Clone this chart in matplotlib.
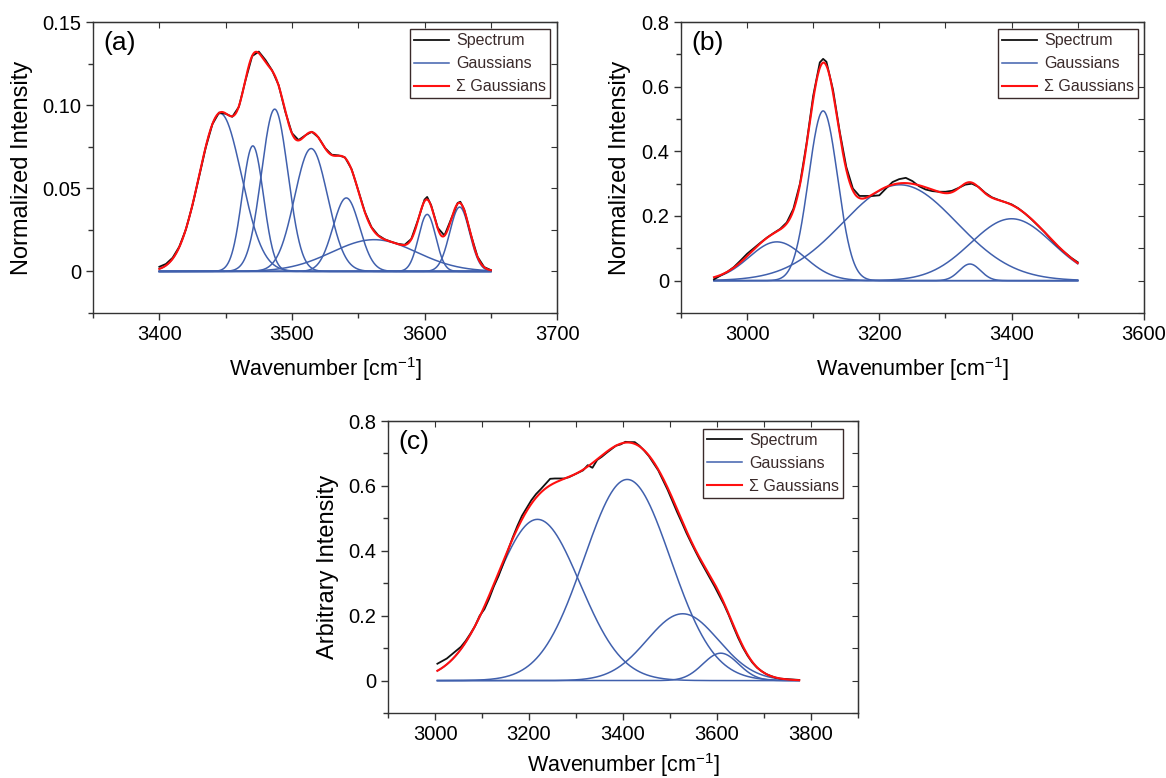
import numpy as np
import matplotlib
matplotlib.use("Agg")
import matplotlib.pyplot as plt
from matplotlib.ticker import MultipleLocator, FuncFormatter

plt.rcParams['font.family'] = ['Liberation Sans', 'DejaVu Sans']
plt.rcParams['mathtext.default'] = 'regular'

# ---- panel (a): Gaussian components (center, height, width) ----
a_cen = [3446, 3470.5, 3487, 3514.5, 3541, 3562, 3602, 3626.5]
a_amp = [0.095, 0.0755, 0.0976, 0.0739, 0.0442, 0.0191, 0.0343, 0.0387]
a_sig = [16, 8, 10, 12.5, 10, 32, 6.5, 7.5]
# measured spectrum (a)
a_wn = [3400, 3405, 3410, 3415, 3420, 3425, 3430, 3435, 3440, 3445, 3450, 3455,
        3460, 3465, 3470, 3475, 3480, 3485, 3490, 3495, 3500, 3505, 3510, 3515,
        3520, 3525, 3530, 3535, 3540, 3545, 3550, 3555, 3560, 3565, 3570, 3575,
        3580, 3585, 3590, 3595, 3600, 3602, 3605, 3610, 3615, 3620, 3625, 3627,
        3630, 3635, 3640, 3645, 3650]
a_int = [0.0028, 0.0045, 0.0082, 0.0148, 0.0252, 0.0398, 0.0570, 0.0745, 0.0885,
         0.0955, 0.0948, 0.0930, 0.0990, 0.1150, 0.1295, 0.1322, 0.1272, 0.1210,
         0.1120, 0.0960, 0.0832, 0.0790, 0.0818, 0.0840, 0.0806, 0.0742, 0.0702,
         0.0698, 0.0686, 0.0615, 0.0488, 0.0358, 0.0266, 0.0218, 0.0193, 0.0178,
         0.0166, 0.0160, 0.0195, 0.0308, 0.0432, 0.0448, 0.0398, 0.0262, 0.0216,
         0.0314, 0.0412, 0.0419, 0.0371, 0.0220, 0.0088, 0.0026, 0.0008]

# ---- panel (b) ----
b_cen = [3045, 3115, 3231, 3337, 3400]
b_amp = [0.12, 0.525, 0.2965, 0.0515, 0.1915]
b_sig = [42, 22, 86, 16, 62]
b_wn = [2950, 2960, 2970, 2980, 2990, 3000, 3010, 3020, 3030, 3040, 3050, 3060,
        3070, 3080, 3090, 3100, 3110, 3115, 3120, 3130, 3140, 3150, 3160, 3170,
        3180, 3190, 3200, 3210, 3220, 3230, 3240, 3250, 3260, 3270, 3280, 3290,
        3300, 3310, 3320, 3330, 3340, 3350, 3360, 3370, 3380, 3390, 3400, 3410,
        3420, 3430, 3440, 3450, 3460, 3470, 3480, 3490, 3500]
b_int = [0.004, 0.016, 0.027, 0.042, 0.062, 0.083, 0.100, 0.117, 0.133, 0.147,
         0.160, 0.180, 0.222, 0.300, 0.425, 0.572, 0.675, 0.686, 0.677, 0.590,
         0.462, 0.352, 0.285, 0.262, 0.262, 0.262, 0.264, 0.285, 0.305, 0.314,
         0.318, 0.308, 0.292, 0.282, 0.277, 0.275, 0.275, 0.278, 0.287, 0.297,
         0.300, 0.290, 0.272, 0.258, 0.250, 0.243, 0.236, 0.224, 0.208, 0.190,
         0.170, 0.150, 0.127, 0.106, 0.088, 0.071, 0.057]

# ---- panel (c) ----
c_cen = [3218, 3409, 3527, 3608]
c_amp = [0.497, 0.62, 0.206, 0.0845]
c_sig = [90, 92, 76, 38]
c_wn = list(range(3005, 3776, 10))
c_int = [0.052, 0.060, 0.068, 0.080, 0.092, 0.104, 0.122, 0.144, 0.168, 0.200,
         0.220, 0.252, 0.290, 0.322, 0.360, 0.400, 0.440, 0.476, 0.508, 0.532,
         0.556, 0.575, 0.590, 0.606, 0.622, 0.623, 0.623, 0.623, 0.627, 0.634,
         0.641, 0.648, 0.664, 0.656, 0.680, 0.690, 0.702, 0.713, 0.724, 0.728,
         0.736, 0.735, 0.735, 0.724, 0.709, 0.692, 0.670, 0.648, 0.618, 0.588,
         0.554, 0.520, 0.488, 0.455, 0.425, 0.396, 0.368, 0.342, 0.316, 0.290,
         0.262, 0.234, 0.202, 0.166, 0.132, 0.102, 0.077, 0.056, 0.040, 0.029,
         0.020, 0.014, 0.009, 0.006, 0.005, 0.004, 0.003, 0.002]

BLUE = '#4060ad'
RED = '#ff1010'
EDGE = '#3a2a2a'


def gauss(x, c, a, s):
    return a * np.exp(-(x - c) ** 2 / (2.0 * s ** 2))


def panel(ax, wn, inten, cen, amp, sig, xlim, ylim, xmaj, ymaj, ymin, yfmt,
          ylabel, tag, leg_anchor, xpad=8):
    x = np.linspace(wn[0], wn[-1], 800)
    total = np.zeros_like(x)
    for i, (c, a, s) in enumerate(zip(cen, amp, sig)):
        g = gauss(x, c, a, s)
        total += g
        ax.plot(x, g, color=BLUE, lw=1.1, label='Gaussians' if i == 0 else None, zorder=2)
    ax.plot(wn, inten, color='#111111', lw=1.3, label='Spectrum', zorder=3)
    ax.plot(x, total, color=RED, lw=1.5, label='Σ Gaussians', zorder=4)

    ax.set_xlim(*xlim)
    ax.set_ylim(*ylim)
    ax.xaxis.set_major_locator(MultipleLocator(xmaj))
    ax.xaxis.set_minor_locator(MultipleLocator(xmaj / 2))
    ax.yaxis.set_major_locator(MultipleLocator(ymaj))
    ax.yaxis.set_minor_locator(MultipleLocator(ymin))
    ax.yaxis.set_major_formatter(FuncFormatter(yfmt))
    ax.tick_params(which='both', direction='out', labelsize=14.5, color='#333333')
    ax.tick_params(which='major', length=5, width=1)
    ax.tick_params(which='minor', length=3.5, width=1)
    for sp in ax.spines.values():
        sp.set_color('#333333')
        sp.set_linewidth(1)

    top = ax.secondary_xaxis('top')
    top.xaxis.set_major_locator(MultipleLocator(xmaj / 2))
    top.tick_params(which='both', direction='in', length=4, color='#333333',
                    labeltop=False, labelbottom=False)
    right = ax.secondary_yaxis('right')
    right.yaxis.set_major_locator(MultipleLocator(ymin))
    right.tick_params(which='both', direction='in', length=4, color='#333333',
                      labelright=False, labelleft=False)

    ax.set_xlabel('Wavenumber [cm$^{-1}$]', fontsize=15.5, labelpad=xpad)
    ax.set_ylabel(ylabel, fontsize=17, labelpad=7)
    ax.text(0.023, 0.97, tag, transform=ax.transAxes, ha='left', va='top', fontsize=19)

    h, l = ax.get_legend_handles_labels()
    order = [l.index('Spectrum'), l.index('Gaussians'), l.index('Σ Gaussians')]
    leg = ax.legend([h[i] for i in order], [l[i] for i in order], loc='upper right',
                    bbox_to_anchor=leg_anchor, borderaxespad=0, fontsize=11.5,
                    fancybox=False, framealpha=1, edgecolor=EDGE, handlelength=2.2,
                    handletextpad=0.45, labelspacing=0.5, borderpad=0.25,
                    labelcolor=EDGE)
    leg.get_frame().set_linewidth(1)


def fmt_a(v, pos):
    return '0' if abs(v) < 1e-9 else '%.2f' % v


def fmt_bc(v, pos):
    return '0' if abs(v) < 1e-9 else '%.1f' % v


fig = plt.figure(figsize=(11.66, 7.78), dpi=100)
ax_a = fig.add_axes([0.0798, 0.5977, 0.398, 0.374])
ax_b = fig.add_axes([0.584, 0.5977, 0.397, 0.374])
ax_c = fig.add_axes([0.3328, 0.0835, 0.403, 0.3753])

panel(ax_a, a_wn, a_int, a_cen, a_amp, a_sig, (3350, 3700), (-0.025, 0.15),
      100, 0.05, 0.025, fmt_a, 'Normalized Intensity', '(a)', (0.985, 0.975))
panel(ax_b, b_wn, b_int, b_cen, b_amp, b_sig, (2900, 3600), (-0.1, 0.8),
      200, 0.2, 0.1, fmt_bc, 'Normalized Intensity', '(b)', (0.987, 0.975))
panel(ax_c, c_wn, c_int, c_cen, c_amp, c_sig, (2900, 3900), (-0.1, 0.8),
      200, 0.2, 0.1, fmt_bc, 'Arbitrary Intensity', '(c)', (0.968, 0.973), xpad=5)

fig.savefig('out.png', dpi=100)
